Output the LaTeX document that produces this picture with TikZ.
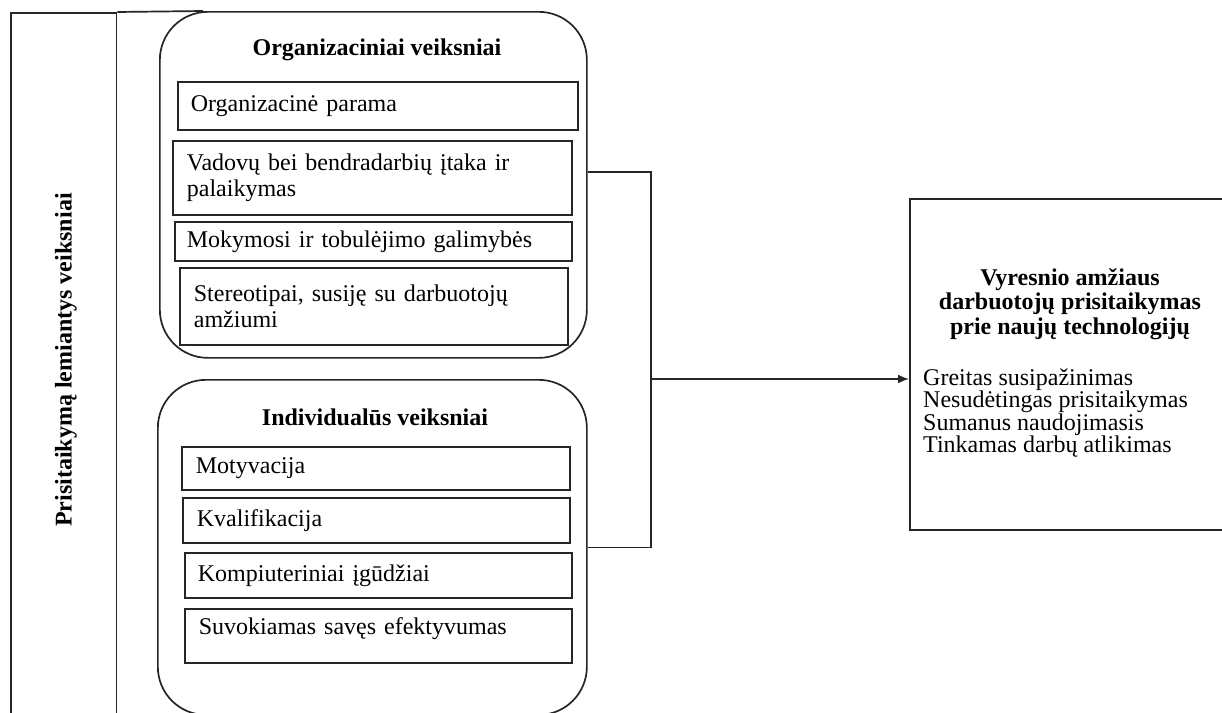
\documentclass[tikz,border=0pt]{standalone}
\usepackage{fontspec}
\setmainfont{Liberation Serif}
\usetikzlibrary{arrows.meta}
\begin{document}
\begin{tikzpicture}[x=1pt,y=-1pt,
  line/.style={line width=1.7pt, draw=black!85},
  group/.style={line, rectangle, rounded corners=48pt, anchor=north west, inner sep=0pt},
  itembox/.style={line, rectangle, anchor=north west, inner ysep=0pt, align=left,
                  font=\fontsize{24}{26}\selectfont},
  heading/.style={font=\bfseries\fontsize{24}{26}\selectfont, inner sep=0pt, align=center},
  arrow/.style={line, -{Latex[length=11pt,width=9pt]}}
]
\clip (0,0) rectangle (1222,712);
\fill[white] (0,0) rectangle (1222,712);

% left strip with the rotated caption
\node[line, rectangle, anchor=north west, minimum width=105.7pt, minimum height=760pt, inner sep=0pt]
  (frame) at (10,12) {};
\node[heading, rotate=90] (lbl) at (66,360) {Prisitaikymą lemiantys veiksniai};

% organisational factors
\node[group, minimum width=427pt, minimum height=346pt] (org) at (159,11) {};
\draw[line] (frame.north east) -- ([xshift=44pt]org.north west);
\node[heading] (orgt) at (377,50) {Organizaciniai veiksniai};
\node[itembox, minimum width=400pt, minimum height=48pt, text width=374pt, inner xsep=13pt]
  (o1) at (177,81) {Organizacinė parama};
\node[itembox, minimum width=399pt, minimum height=74pt, text width=371pt, inner xsep=14pt]
  (o2) at (172,140) {Vadovų bei bendradarbių įtaka ir\\palaikymas};
\node[itembox, minimum width=397pt, minimum height=39pt, text width=373pt, inner xsep=12pt]
  (o3) at (174,221) {Mokymosi ir tobulėjimo galimybės};
\node[itembox, minimum width=388pt, minimum height=77pt, text width=360pt, inner xsep=14pt]
  (o4) at (179,267) {Stereotipai, susiję su darbuotojų\\amžiumi};

% individual factors
\node[group, minimum width=429pt, minimum height=335pt] (ind) at (157,379) {};
\node[heading] (indt) at (375,417) {Individualūs veiksniai};
\node[itembox, minimum width=388pt, minimum height=43pt, text width=360pt, inner xsep=14pt]
  (i1) at (181,446) {Motyvacija};
\node[itembox, minimum width=387pt, minimum height=45pt, text width=359pt, inner xsep=14pt]
  (i2) at (182,497) {Kvalifikacija};
\node[itembox, minimum width=387pt, minimum height=45pt, text width=361pt, inner xsep=13pt]
  (i3) at (184,552) {Kompiuteriniai įgūdžiai};
\node[itembox, minimum width=387pt, minimum height=54pt, text width=359pt, inner xsep=14pt, text depth=20pt]
  (i4) at (184,608) {Suvokiamas savęs efektyvumas};

% outcome box
\node[line, rectangle, anchor=north west, minimum width=340pt, minimum height=331pt, inner sep=0pt]
  (out) at (909,198) {};
\node[heading, font=\bfseries\fontsize{24}{24.5}\selectfont] (outt) at (1070,304)
  {Vyresnio amžiaus\\darbuotojų prisitaikymas\\prie naujų technologijų};
\node[anchor=west, inner sep=0pt, align=left, font=\fontsize{24}{22.6}\selectfont] (outl) at (923,413)
  {Greitas susipažinimas\\Nesudėtingas prisitaikymas\\Sumanus naudojimasis\\Tinkamas darbų atlikimas};

% connectors
\coordinate (j) at (651,379);
\draw[line] ([yshift=13pt]org.east) -| (j) |- (ind.east);
\draw[arrow] (j) -- (j -| out.west);
\end{tikzpicture}
\end{document}
